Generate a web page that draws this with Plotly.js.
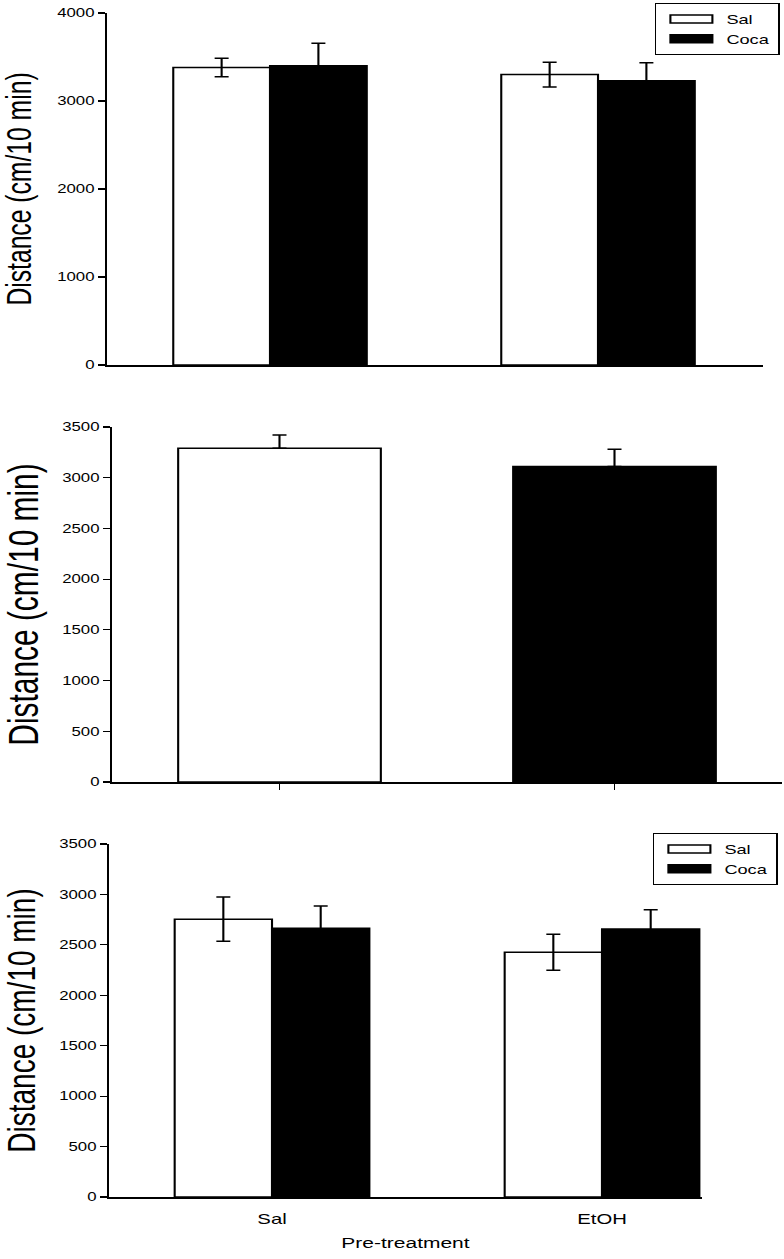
<!DOCTYPE html>
<html>
<head>
<meta charset="utf-8">
<script src="https://cdn.plot.ly/plotly-3.0.1.min.js"></script>
<style>
  html, body { margin: 0; padding: 0; background: #fff; overflow: hidden; }
  #plot { width: 560px; height: 1259px; transform: scaleX(1.4); transform-origin: 0 0; }
</style>
</head>
<body>
<div id="plot"></div>
<script>
// ---- data ----
const categories = ['Sal', 'EtOH'];          // pre-treatment groups
const seriesNames = ['Sal', 'Coca'];          // treatment groups

// top panel
const topSal = [3380, 3300];
const topSalErr = [105, 140];
const topCoca = [3400, 3230];
const topCocaErr = [255, 205];

// middle panel
const midCategories = ['Sal', 'Coca'];
const midValues = [3290, 3110];
const midErr = [131, 171];

// bottom panel
const botSal = [2755, 2427];
const botSalErr = [220, 178];
const botCoca = [2665, 2657];
const botCocaErr = [220, 190];

const yTitle = 'Distance (cm/10 min)';
const xTitle = 'Pre-treatment';

// ---- styling helpers ----
const FONT = 'Liberation Sans, Arial, sans-serif';
const W = 784, H = 1259;
const px = v => v / W;
const py = v => 1 - v / H;

function errStyle(arr, minus) {
  const e = { type: 'data', array: arr, visible: true, color: '#000', thickness: 1.5, width: 5 };
  if (minus) { e.symmetric = false; e.arrayminus = minus; }
  return e;
}

const traces = [
  { type: 'bar', name: seriesNames[0], x: categories, y: topSal, xaxis: 'x', yaxis: 'y',
    marker: { color: '#fff', line: { color: '#000', width: 1.5 } },
    error_y: errStyle(topSalErr), legend: 'legend' },
  { type: 'bar', name: seriesNames[1], x: categories, y: topCoca, xaxis: 'x', yaxis: 'y',
    marker: { color: '#000', line: { color: '#000', width: 1.5 } },
    error_y: errStyle(topCocaErr), legend: 'legend' },
  { type: 'bar', name: 'mid', x: midCategories, y: midValues, xaxis: 'x2', yaxis: 'y2',
    width: 0.605, showlegend: false,
    marker: { color: ['#fff', '#000'], line: { color: '#000', width: 1.5 } },
    error_y: errStyle(midErr, [0, 0]) },
  { type: 'bar', name: seriesNames[0], x: categories, y: botSal, xaxis: 'x3', yaxis: 'y3',
    marker: { color: '#fff', line: { color: '#000', width: 1.5 } },
    error_y: errStyle(botSalErr), legend: 'legend2' },
  { type: 'bar', name: seriesNames[1], x: categories, y: botCoca, xaxis: 'x3', yaxis: 'y3',
    marker: { color: '#000', line: { color: '#000', width: 1.5 } },
    error_y: errStyle(botCocaErr), legend: 'legend2' }
];

const yBase = {
  showline: true, linecolor: '#000', linewidth: 1.5, ticks: 'outside', ticklen: 5,
  tickwidth: 1.2, tickcolor: '#000', showgrid: false, zeroline: false,
  tickfont: { family: FONT, size: 12, color: '#000' }, fixedrange: true
};
const xBase = {
  showline: true, linecolor: '#000', linewidth: 1.5, showgrid: false, zeroline: false,
  type: 'category', fixedrange: true
};

const legendBase = {
  bordercolor: '#000', borderwidth: 1, bgcolor: '#fff', xanchor: 'left', yanchor: 'top',
  itemwidth: 40, font: { family: FONT, size: 13, color: '#000' }, tracegroupgap: 0,
  traceorder: 'normal'
};

const layout = {
  width: 560, height: 1259,
  margin: { l: 0, r: 0, t: 0, b: 0 },
  paper_bgcolor: '#fff', plot_bgcolor: '#fff',
  barmode: 'group', bargap: 0.41, bargroupgap: 0,
  showlegend: true,
  font: { family: FONT, color: '#000' },
  xaxis: Object.assign({}, xBase, { domain: [px(107), px(763)], range: [-0.497, 1.503], anchor: 'y',
    ticks: '', showticklabels: false }),
  yaxis: Object.assign({}, yBase, { domain: [py(365), py(13)], range: [0, 4000], dtick: 1000, anchor: 'x',
    title: { text: yTitle, font: { family: FONT, size: 24.7, color: '#000' }, standoff: 11 } }),
  xaxis2: Object.assign({}, xBase, { domain: [px(112), px(782)], range: [-0.5, 1.5], anchor: 'y2',
    ticks: 'outside', ticklen: 6, tickwidth: 1.2, tickcolor: '#000', showticklabels: false }),
  yaxis2: Object.assign({}, yBase, { domain: [py(782), py(427)], range: [0, 3500], dtick: 500, anchor: 'x2',
    title: { text: yTitle, font: { family: FONT, size: 29.9, color: '#000' }, standoff: 12.5 } }),
  xaxis3: Object.assign({}, xBase, { domain: [px(109), px(702)], range: [-0.494, 1.303], anchor: 'y3',
    ticks: '', showticklabels: true, ticklabelstandoff: 8,
    tickfont: { family: FONT, size: 14.5, color: '#000' },
    title: { text: xTitle, font: { family: FONT, size: 15, color: '#000' }, standoff: 11 } }),
  yaxis3: Object.assign({}, yBase, { domain: [py(1197), py(844)], range: [0, 3500], dtick: 500, anchor: 'x3',
    title: { text: yTitle, font: { family: FONT, size: 28, color: '#000' }, standoff: 12 } }),
  legend: Object.assign({}, legendBase, { x: px(655), y: py(3) }),
  legend2: Object.assign({}, legendBase, { x: px(653), y: py(833) })
};

Plotly.newPlot('plot', traces, layout, { staticPlot: true, displayModeBar: false }).then(gd => {
  // widen the legend swatches to the flat rectangles of the original
  gd.querySelectorAll('.legendpoints path').forEach(p => {
    p.setAttribute('d', 'M15,4H-15V-4H15Z');
  });
});
</script>
</body>
</html>
